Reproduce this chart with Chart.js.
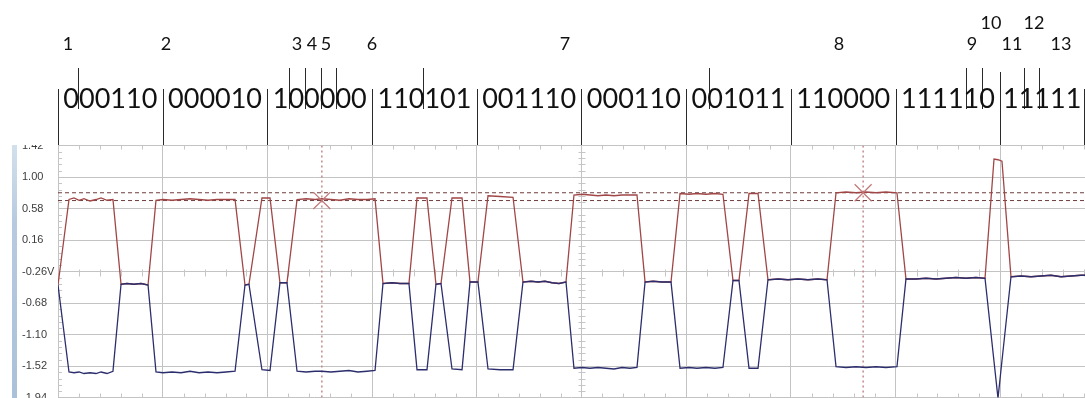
<!DOCTYPE html>
<html>
<head>
<meta charset="utf-8">
<script src="https://cdn.jsdelivr.net/npm/chart.js@4.4.1/dist/chart.umd.min.js"></script>
<style>
html,body{margin:0;padding:0;background:#fff;overflow:hidden}
canvas{display:block}
</style>
</head>
<body>
<canvas id="c" width="1085" height="398"></canvas>
<script>
// time in screen divisions
const timeDiv = [0,0.105,0.153,0.201,0.248,0.306,0.363,0.411,0.468,0.525,
  0.602,0.659,0.726,0.793,0.860,0.936,1.003,1.089,1.175,1.261,
  1.347,1.433,1.519,1.605,1.691,1.786,1.824,1.948,2.025,2.120,
  2.187,2.283,2.369,2.455,2.521,2.607,2.693,2.779,2.865,2.951,
  3.028,3.104,3.190,3.266,3.352,3.429,3.524,3.610,3.658,3.763,
  3.859,3.935,4.011,4.107,4.222,4.346,4.441,4.518,4.585,4.651,
  4.718,4.785,4.852,4.928,5.005,5.081,5.158,5.234,5.310,5.387,
  5.463,5.530,5.607,5.683,5.769,5.855,5.941,6.027,6.103,6.189,
  6.275,6.351,6.447,6.504,6.600,6.686,6.781,6.877,6.972,7.068,
  7.163,7.259,7.345,7.431,7.526,7.622,7.717,7.813,7.908,8.013,
  8.099,8.195,8.290,8.386,8.481,8.577,8.672,8.768,8.854,8.940,
  8.978,9.016,9.102,9.198,9.293,9.389,9.484,9.580,9.675,9.771,9.809];
const redV = [-0.44,0.70,0.72,0.69,0.71,0.68,0.70,0.72,0.69,0.70,
  -0.43,-0.42,-0.43,-0.42,-0.44,0.69,0.70,0.69,0.70,0.71,
  0.70,0.69,0.70,0.70,0.70,-0.44,-0.43,0.72,0.72,-0.41,
  -0.41,0.70,0.71,0.70,0.71,0.70,0.69,0.71,0.70,0.70,
  0.71,-0.42,-0.41,-0.42,-0.42,0.72,0.72,-0.43,-0.42,0.72,
  0.72,-0.40,-0.40,0.75,0.74,0.73,-0.40,-0.39,-0.40,-0.39,
  -0.41,-0.42,-0.40,0.76,0.77,0.76,0.75,0.76,0.75,0.76,
  0.76,0.76,-0.40,-0.39,-0.40,-0.40,0.78,0.77,0.78,0.77,
  0.78,0.77,-0.38,-0.38,0.78,0.78,-0.37,-0.36,-0.37,-0.36,
  -0.37,-0.36,-0.37,0.79,0.80,0.79,0.80,0.79,0.80,0.79,
  -0.36,-0.36,-0.35,-0.36,-0.35,-0.34,-0.35,-0.34,-0.35,1.24,
  1.23,1.21,-0.33,-0.32,-0.33,-0.32,-0.31,-0.33,-0.32,-0.31,-0.31];
const blueV = [-0.44,-1.60,-1.61,-1.60,-1.62,-1.61,-1.62,-1.60,-1.62,-1.59,
  -0.43,-0.42,-0.43,-0.42,-0.44,-1.60,-1.61,-1.60,-1.61,-1.59,
  -1.61,-1.60,-1.61,-1.60,-1.59,-0.44,-0.43,-1.57,-1.58,-0.41,
  -0.41,-1.59,-1.60,-1.59,-1.59,-1.60,-1.59,-1.58,-1.60,-1.59,
  -1.58,-0.42,-0.41,-0.42,-0.42,-1.57,-1.57,-0.43,-0.42,-1.56,
  -1.57,-0.40,-0.40,-1.56,-1.57,-1.57,-0.40,-0.39,-0.40,-0.39,
  -0.41,-0.42,-0.40,-1.55,-1.54,-1.55,-1.54,-1.55,-1.56,-1.54,
  -1.55,-1.54,-0.40,-0.39,-0.40,-0.40,-1.55,-1.54,-1.55,-1.54,
  -1.55,-1.54,-0.38,-0.38,-1.55,-1.55,-0.37,-0.36,-0.37,-0.36,
  -0.37,-0.36,-0.37,-1.53,-1.54,-1.53,-1.54,-1.53,-1.54,-1.53,
  -0.36,-0.36,-0.35,-0.36,-0.35,-0.34,-0.35,-0.34,-0.35,-1.46,
  -1.95,-1.45,-0.33,-0.32,-0.33,-0.32,-0.31,-0.33,-0.32,-0.31,-0.31];

const yTicks = [1.42,1.00,0.58,0.16,-0.26,-0.68,-1.10,-1.52,-1.94];
const xGrid = [0,1,2,3,4,5,6,7,8,9];
const xMax = 9.809;
const cursorTimes = [2.52,7.69];
const cursorLevels = [0.686,0.79];

// annotation above the screen
const groupBits = ['000110','000010','100000','110101','001110','000110','001011','110000','111110','11111'];
const groupEdges = [0,1,2,3,4,5,6,7,8,9,9.80];
const bitMarks = [0.194,2.203,2.359,2.509,2.655,3.489,6.218,8.670,8.822,9.226,9.370];
const markerLabels = ['1','2','3','4','5','6','7','8','9','10','11','12','13'];
const markerTimes = [0.096,1.032,2.283,2.426,2.560,2.999,4.842,7.459,8.730,8.911,9.112,9.322,9.580];
const markerRow = [1,1,1,1,1,1,1,1,1,0,1,0,1];

const pts = ys => timeDiv.map((t,i)=>({x:t,y:ys[i]}));

const minorTicks = {
  id:'minorTicks',
  beforeDatasetsDraw(chart){
    const {ctx, chartArea:a, scales:{x,y}} = chart;
    ctx.save();
    ctx.strokeStyle = '#c6c6c6';
    ctx.lineWidth = 1;
    ctx.beginPath();
    const yc = Math.round(y.getPixelForValue(-0.26))+0.5;
    const xc = Math.round(x.getPixelForValue(5))+0.5;
    for (let i=1;i*0.2<xMax;i++){
      if (i%5===0) continue;
      const px = Math.round(x.getPixelForValue(i*0.2))+0.5;
      ctx.moveTo(px,a.top); ctx.lineTo(px,a.top+4);
      ctx.moveTo(px,a.bottom); ctx.lineTo(px,a.bottom-4);
      ctx.moveTo(px,yc-3); ctx.lineTo(px,yc+4);
    }
    for (let j=1;j<40;j++){
      if (j%5===0) continue;
      const py = Math.round(y.getPixelForValue(-1.94+j*0.084))+0.5;
      ctx.moveTo(a.left,py); ctx.lineTo(a.left+4,py);
      ctx.moveTo(xc-3,py); ctx.lineTo(xc+4,py);
    }
    ctx.stroke();
    ctx.restore();
  }
};

const annot = {
  id:'annot',
  afterDraw(chart){
    const {ctx, scales:{x}} = chart;
    ctx.save();
    ctx.fillStyle = '#ffffff';
    ctx.fillRect(0,0,chart.width,145);
    const g = ctx.createLinearGradient(0,145,0,398);
    g.addColorStop(0,'#d3e0ec'); g.addColorStop(0.3,'#b7cbe0'); g.addColorStop(1,'#aac1d9');
    ctx.fillStyle = g;
    ctx.fillRect(12,145,5,253);

    ctx.strokeStyle = '#2a2a2a';
    ctx.lineWidth = 1;
    ctx.beginPath();
    groupEdges.forEach(t=>{
      const px = Math.round(x.getPixelForValue(t))+0.5;
      ctx.moveTo(px, t===9 ? 72 : 89); ctx.lineTo(px,145);
    });
    bitMarks.forEach(t=>{
      const px = Math.round(x.getPixelForValue(t))+0.5;
      ctx.moveTo(px,68); ctx.lineTo(px,109);
    });
    ctx.stroke();

    ctx.fillStyle = '#111';
    ctx.textAlign = 'center';
    ctx.textBaseline = 'alphabetic';
    ctx.font = '27px Lato, "Open Sans", sans-serif';
    groupBits.forEach((b,i)=>{
      const c = (groupEdges[i]+groupEdges[i+1])/2;
      ctx.fillText(b, x.getPixelForValue(c), 107.5);
    });
    ctx.font = '18px Lato, "Open Sans", sans-serif';
    markerLabels.forEach((m,i)=>{
      ctx.fillText(m, x.getPixelForValue(markerTimes[i]), markerRow[i] ? 49.5 : 28.5);
    });
    ctx.restore();
  }
};

const gridColor = '#c3c3c3';
new Chart(document.getElementById('c'), {
  type:'line',
  data:{
    datasets:[
      {label:'B', data:pts(blueV), borderColor:'#2b2d6c', borderWidth:1.3, pointRadius:0, tension:0, order:1},
      {label:'A', data:pts(redV), borderColor:'#a04646', borderWidth:1.3, pointRadius:0, tension:0, order:2},
      {label:'lvl1', data:[{x:0,y:cursorLevels[0]},{x:xMax,y:cursorLevels[0]}], borderColor:'#6e3c3c', borderWidth:1, borderDash:[4,3], pointRadius:0, order:4},
      {label:'lvl2', data:[{x:0,y:cursorLevels[1]},{x:xMax,y:cursorLevels[1]}], borderColor:'#6e3c3c', borderWidth:1, borderDash:[4,3], pointRadius:0, order:4},
      {label:'t1', data:[{x:cursorTimes[0],y:-1.94},{x:cursorTimes[0],y:1.42}], borderColor:'#c28a8a', borderWidth:1.5, borderDash:[2,3], pointRadius:0, order:5},
      {label:'t2', data:[{x:cursorTimes[1],y:-1.94},{x:cursorTimes[1],y:1.42}], borderColor:'#c28a8a', borderWidth:1.5, borderDash:[2,3], pointRadius:0, order:5},
      {label:'cursors', data:[{x:cursorTimes[0],y:cursorLevels[0]},{x:cursorTimes[1],y:cursorLevels[1]}], showLine:false,
        pointStyle:'crossRot', pointRadius:12, pointBorderColor:'#c27676', pointBorderWidth:1.2, borderColor:'#c27676', order:0}
    ]
  },
  options:{
    responsive:false,
    animation:false,
    devicePixelRatio:1,
    layout:{autoPadding:false, padding:{left:22, top:145.5, right:0, bottom:0.5}},
    plugins:{legend:{display:false}, tooltip:{enabled:false}},
    scales:{
      x:{
        type:'linear', min:0, max:xMax,
        afterBuildTicks: s => { s.ticks = xGrid.map(v=>({value:v})); },
        ticks:{display:false},
        grid:{color:gridColor, drawTicks:false, lineWidth:1},
        border:{display:false}
      },
      y:{
        type:'linear', min:-1.94, max:1.42,
        afterBuildTicks: s => { s.ticks = yTicks.map(v=>({value:v})); },
        afterFit: s => { s.width = 36; s.paddingTop = 0; s.paddingBottom = 0; },
        ticks:{
          crossAlign:'far', padding:0, color:'#3c3c3c',
          font:{family:'"Liberation Sans", Arial, sans-serif', size:11},
          callback: v => v.toFixed(2) + (Math.abs(v+0.26)<1e-6 ? 'V' : '')
        },
        grid:{color:gridColor, drawTicks:false, lineWidth:1},
        border:{display:false}
      }
    }
  },
  plugins:[minorTicks, annot]
});
</script>
</body>
</html>
